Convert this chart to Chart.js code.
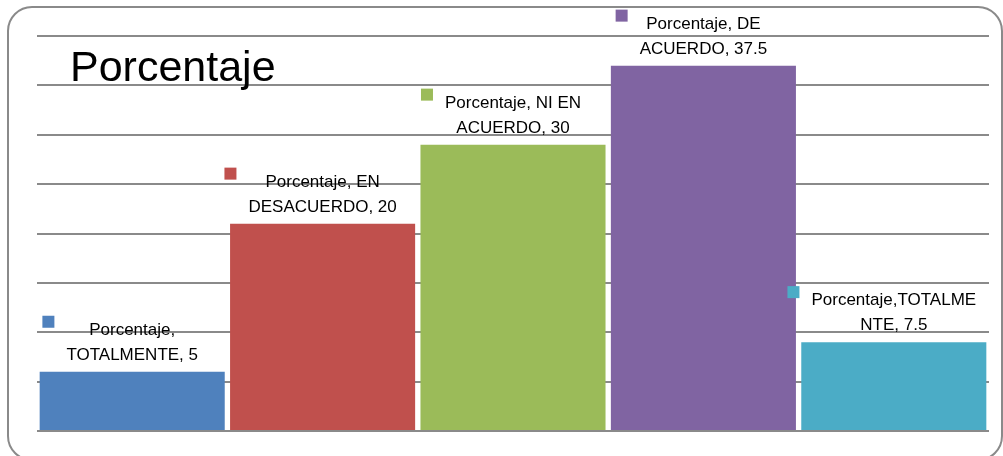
<!DOCTYPE html>
<html>
<head>
<meta charset="utf-8">
<script src="https://cdn.jsdelivr.net/npm/chart.js@4/dist/chart.umd.min.js"></script>
<style>
  html, body { margin: 0; padding: 0; background: #fff; }
  #wrap { width: 1003px; height: 456px; position: relative; }
</style>
</head>
<body>
<div id="wrap"><canvas id="myChart" width="1003" height="456"></canvas></div>
<script>
// data
const seriesName = 'Porcentaje';
const categories = ['TOTALMENTE', 'EN DESACUERDO', 'NI EN ACUERDO', 'DE ACUERDO', 'TOTALMENTE'];
const labelValues = [5, 20, 30, 37.5, 7.5];     // numbers printed in the labels
const barHeights = [6, 21, 29, 37, 9];          // bar heights as drawn (grid step 5)
const yTicks = [0, 5, 10, 15, 20, 25, 30, 35, 40];
const colors = ['#4F81BD', '#C0504D', '#9BBB59', '#8064A2', '#4BACC6'];

// the way the label text wraps in the picture
const labelHead = ['Porcentaje,', 'Porcentaje, EN', 'Porcentaje, NI EN', 'Porcentaje, DE', 'Porcentaje,TOTALME'];
const labelTail = ['TOTALMENTE', 'DESACUERDO', 'ACUERDO', 'ACUERDO', 'NTE'];

const FONT = '"Liberation Sans", Arial, sans-serif';

const framePlugin = {
  id: 'frame',
  beforeDraw(chart) {
    const ctx = chart.ctx;
    ctx.save();
    ctx.strokeStyle = '#8a8a8a';
    ctx.lineWidth = 2;
    ctx.beginPath();
    ctx.roundRect(8, 7, 994, 453, 24);
    ctx.stroke();
    ctx.restore();
  },
  afterDraw(chart) {
    const ctx = chart.ctx;
    ctx.save();
    ctx.fillStyle = '#000';
    ctx.font = '43px ' + FONT;
    ctx.textBaseline = 'alphabetic';
    ctx.fillText(seriesName, 70, 81);
    ctx.restore();
  }
};

const labelPlugin = {
  id: 'barLabels',
  afterDatasetsDraw(chart) {
    const ctx = chart.ctx;
    const meta = chart.getDatasetMeta(0);
    ctx.save();
    ctx.font = '17px ' + FONT;
    ctx.fillStyle = '#000';
    ctx.textAlign = 'center';
    ctx.textBaseline = 'alphabetic';
    meta.data.forEach((bar, i) => {
      const lines = [labelHead[i], labelTail[i] + ', ' + labelValues[i]];
      const w = Math.max(...lines.map(l => ctx.measureText(l).width));
      const base2 = bar.y - 12;
      const base1 = base2 - 25;
      ctx.fillText(lines[0], bar.x, base1);
      ctx.fillText(lines[1], bar.x, base2);
      ctx.fillStyle = colors[i];
      ctx.fillRect(bar.x - w / 2 - 24, base1 - 19, 12, 12);
      ctx.fillStyle = '#000';
    });
    ctx.restore();
  }
};

new Chart(document.getElementById('myChart'), {
  type: 'bar',
  data: {
    labels: categories,
    datasets: [{
      label: seriesName,
      data: barHeights,
      backgroundColor: colors,
      borderWidth: 0,
      categoryPercentage: 1,
      barPercentage: 0.972
    }]
  },
  options: {
    responsive: false,
    animation: false,
    layout: { padding: { left: 37, right: 14, top: 36, bottom: 25 } },
    plugins: {
      legend: { display: false },
      tooltip: { enabled: false }
    },
    scales: {
      x: { display: false },
      y: {
        min: yTicks[0],
        max: yTicks[yTicks.length - 1],
        afterBuildTicks: (scale) => { scale.ticks = yTicks.map(v => ({ value: v })); },
        ticks: { display: false },
        border: { display: false },
        grid: { color: '#8a8a8a', lineWidth: 2, drawTicks: false }
      }
    }
  },
  plugins: [framePlugin, labelPlugin]
});
</script>
</body>
</html>
